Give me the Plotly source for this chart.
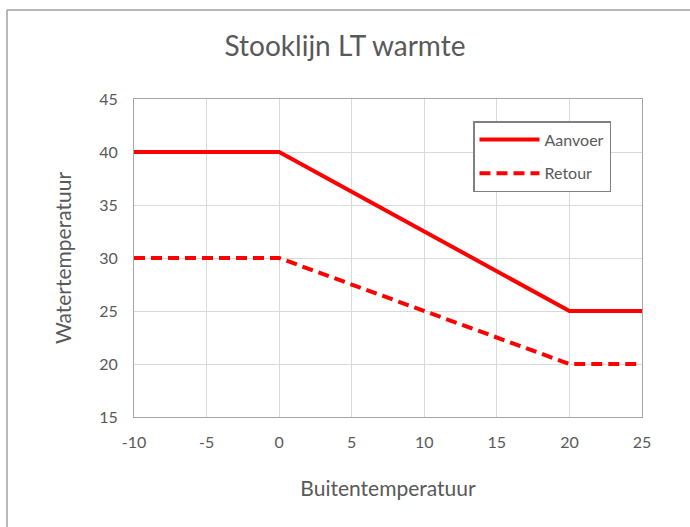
import plotly.graph_objects as go

buiten = [-10, 0, 20, 25]
aanvoer = [40, 40, 25, 25]
retour = [30, 30, 20, 20]
x_ticks = [-10, -5, 0, 5, 10, 15, 20, 25]
y_ticks = [15, 20, 25, 30, 35, 40, 45]

FONT = "Lato, 'Open Sans', sans-serif"
GRAY = "#595959"

fig = go.Figure()
fig.add_trace(go.Scatter(x=buiten, y=aanvoer, mode="lines", name="Aanvoer", legendgroup="a",
                         line=dict(color="#ff0000", width=4)))
fig.add_trace(go.Scatter(x=buiten, y=retour, mode="lines", name="Retour", legendgroup="b",
                         line=dict(color="#ff0000", width=4, dash="11px,6px")))

L, R, T, B = 134, 48, 99, 110
W, H = 690, 527
pw, ph = W - L - R, H - T - B

def px_x(p):
    return (p - L) / pw

def px_y(p):
    return (H - B - p) / ph

fig.update_layout(
    width=W, height=H,
    margin=dict(l=L, r=R, t=T, b=B),
    paper_bgcolor="white", plot_bgcolor="white",
    font=dict(family=FONT, color=GRAY),
    title=dict(text="Stooklijn LT warmte", x=0.5, xanchor="center",
               y=1 - 46 / H, yanchor="middle",
               font=dict(size=28, color=GRAY, family=FONT)),
    xaxis=dict(range=[-10, 25], tickvals=x_ticks, ticktext=[str(v) for v in x_ticks],
               showgrid=True, gridcolor="#d9d9d9", gridwidth=1,
               zeroline=False, showline=True, linecolor="#a6a6a6", linewidth=1, mirror=True,
               ticks="", tickfont=dict(size=16, color=GRAY), ticklabelstandoff=11,
               title=dict(text="Buitentemperatuur", font=dict(size=21, color=GRAY), standoff=31)),
    yaxis=dict(range=[15, 45], tickvals=y_ticks, ticktext=[str(v) for v in y_ticks],
               showgrid=True, gridcolor="#d9d9d9", gridwidth=1,
               zeroline=False, showline=True, linecolor="#a6a6a6", linewidth=1, mirror=True,
               ticks="", tickfont=dict(size=16, color=GRAY), ticklabelstandoff=12,
               title=dict(text="Watertemperatuur", font=dict(size=21, color=GRAY), standoff=21)),
    legend=dict(x=px_x(473), y=px_y(121), xanchor="left", yanchor="top",
                bgcolor="white", bordercolor="#808080", borderwidth=1.5,
                font=dict(size=16, color=GRAY, family=FONT),
                tracegroupgap=10, itemwidth=60),
    showlegend=True,
    shapes=[
        dict(type="line", xref="paper", yref="paper", x0=px_x(7), x1=px_x(7),
             y0=px_y(10), y1=px_y(540), line=dict(color="#a0a0a0", width=1.5)),
        dict(type="line", xref="paper", yref="paper", x0=px_x(7), x1=px_x(700),
             y0=px_y(10), y1=px_y(10), line=dict(color="#a0a0a0", width=1.5)),
    ],
)

fig.write_html("out.html", config={"displayModeBar": False},
               post_script="document.body.style.margin='0';")
